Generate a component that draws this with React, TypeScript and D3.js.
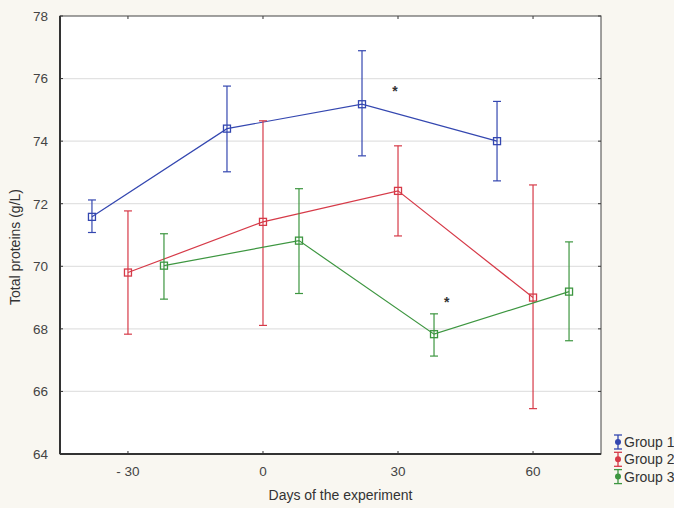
import * as d3 from "d3";

// x offsets of the three groups around each sampling day
const group1Days = [-38, -8, 22, 52];
const group1Mean = [71.58, 74.4, 75.18, 74.0];
const group1Low = [71.08, 73.02, 73.53, 72.73];
const group1High = [72.12, 75.76, 76.89, 75.27];

const group2Days = [-30, 0, 30, 60];
const group2Mean = [69.8, 71.42, 72.41, 69.0];
const group2Low = [67.83, 68.11, 70.97, 65.45];
const group2High = [71.77, 74.65, 73.85, 72.6];

const group3Days = [-22, 8, 38, 68];
const group3Mean = [70.02, 70.82, 67.83, 69.19];
const group3Low = [68.95, 69.13, 67.13, 67.62];
const group3High = [71.04, 72.48, 68.48, 70.78];

const groupNames = ["Group 1", "Group 2", "Group 3"];
const groupColors = ["#3447b0", "#d63a48", "#3d9640"];

const xTicks = [-30, 0, 30, 60];
const yTicks = [64, 66, 68, 70, 72, 74, 76, 78];

// significance marks: [day, value]
const stars = [
  [29.3, 75.72],
  [40.8, 68.97],
];

const width = 674;
const height = 508;
const marginLeft = 60;
const marginRight = 73;
const marginTop = 16;
const marginBottom = 54;

const font = "'Liberation Sans', Arial, sans-serif";

export default function App() {
  const x = d3
    .scaleLinear()
    .domain([-45.1, 75.1])
    .range([marginLeft, width - marginRight]);
  const y = d3
    .scaleLinear()
    .domain([64, 78])
    .range([height - marginBottom, marginTop]);

  const groups = [
    { days: group1Days, mean: group1Mean, low: group1Low, high: group1High },
    { days: group2Days, mean: group2Mean, low: group2Low, high: group2High },
    { days: group3Days, mean: group3Mean, low: group3Low, high: group3High },
  ];

  const x0 = marginLeft;
  const x1 = width - marginRight;
  const y0 = height - marginBottom;
  const y1 = marginTop;

  return (
    <svg
      width={width}
      height={height}
      style={{ position: "absolute", left: 0, top: 0, background: "#f9f7f1" }}
      fontFamily={font}
    >
      <rect x={x0} y={y1} width={x1 - x0} height={y0 - y1} fill="#ffffff" />

      {/* grid */}
      {yTicks.slice(1, -1).map((t) => (
        <line
          key={"g" + t}
          x1={x0}
          x2={x1}
          y1={y(t)}
          y2={y(t)}
          stroke="#e2e2e2"
          strokeWidth={1.2}
        />
      ))}

      {/* ticks, inside the frame */}
      {yTicks.map((t) => (
        <g key={"yt" + t}>
          <line x1={x0} x2={x0 + 3} y1={y(t)} y2={y(t)} stroke="#333" />
          <line x1={x1} x2={x1 - 3} y1={y(t)} y2={y(t)} stroke="#333" />
          <text
            x={x0 - 12}
            y={y(t)}
            dy="0.36em"
            textAnchor="end"
            fontSize={13.5}
            fill="#444"
          >
            {t}
          </text>
        </g>
      ))}
      {xTicks.map((t) => (
        <g key={"xt" + t}>
          <line x1={x(t)} x2={x(t)} y1={y0} y2={y0 - 3} stroke="#333" />
          <line x1={x(t)} x2={x(t)} y1={y1} y2={y1 + 3} stroke="#333" />
          <text
            x={x(t)}
            y={y0 + 22}
            textAnchor="middle"
            fontSize={13.5}
            fill="#444"
          >
            {t < 0 ? "- " + Math.abs(t) : t}
          </text>
        </g>
      ))}

      {/* frame */}
      <rect
        x={x0}
        y={y1}
        width={x1 - x0}
        height={y0 - y1}
        fill="none"
        stroke="#444"
        strokeWidth={1}
      />
      <line x1={x0} x2={x0} y1={y1} y2={y0} stroke="#333" strokeWidth={2} />
      <line x1={x0} x2={x1} y1={y0} y2={y0} stroke="#333" strokeWidth={2} />

      {/* series */}
      {groups.map((g, gi) => {
        const color = groupColors[gi];
        const path = d3
          .line<number>()
          .x((d) => x(g.days[d]))
          .y((d) => y(g.mean[d]))(g.days.map((_, i) => i));
        return (
          <g key={"s" + gi} stroke={color} fill="none" strokeWidth={1.2}>
            <path d={path ?? ""} />
            {g.days.map((d, i) => (
              <g key={i}>
                <line x1={x(d)} x2={x(d)} y1={y(g.low[i])} y2={y(g.high[i])} />
                <line
                  x1={x(d) - 4}
                  x2={x(d) + 4}
                  y1={y(g.low[i])}
                  y2={y(g.low[i])}
                />
                <line
                  x1={x(d) - 4}
                  x2={x(d) + 4}
                  y1={y(g.high[i])}
                  y2={y(g.high[i])}
                />
                <rect
                  x={x(d) - 3.5}
                  y={y(g.mean[i]) - 3.5}
                  width={7}
                  height={7}
                  strokeWidth={1.3}
                />
              </g>
            ))}
          </g>
        );
      })}

      {stars.map(([d, v], i) => (
        <text
          key={"st" + i}
          x={x(d)}
          y={y(v)}
          dy="0.6em"
          textAnchor="middle"
          fontSize={14}
          fontWeight="bold"
          fill="#333"
        >
          *
        </text>
      ))}

      {/* axis titles */}
      <text
        x={(x0 + x1) / 2 + 10}
        y={height - 8}
        textAnchor="middle"
        fontSize={14}
        fill="#333"
      >
        Days of the experiment
      </text>
      <text
        transform={`translate(20,247) rotate(-90)`}
        textAnchor="middle"
        fontSize={14}
        fill="#333"
      >
        Total proteins (g/L)
      </text>

      {/* legend */}
      {groupNames.map((name, i) => {
        const ly = 442 + i * 17.3;
        const color = groupColors[i];
        return (
          <g key={"l" + i}>
            <g stroke={color} strokeWidth={1.3}>
              <line x1={618} x2={618} y1={ly - 7} y2={ly + 7} />
              <line x1={614} x2={622} y1={ly - 7} y2={ly - 7} />
              <line x1={614} x2={622} y1={ly + 7} y2={ly + 7} />
            </g>
            <circle cx={618} cy={ly} r={3} fill={color} />
            <text x={624} y={ly} dy="0.36em" fontSize={14} fill="#333">
              {name}
            </text>
          </g>
        );
      })}
    </svg>
  );
}
